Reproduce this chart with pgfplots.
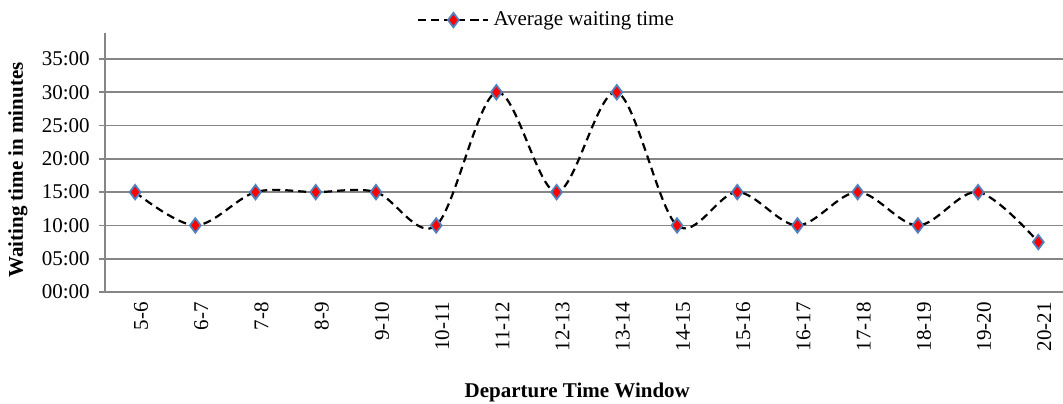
\documentclass[border=0pt]{standalone}
\usepackage{fontspec}
\setmainfont{Liberation Serif}
\usepackage{pgfplots}
\pgfplotsset{compat=1.18}
\definecolor{gridgray}{RGB}{134,134,134}
\definecolor{mkblue}{RGB}{79,129,189}
\newcommand{\fs}{\fontsize{10.5bp}{12.6bp}\selectfont}
\begin{document}
\fs
\begin{tikzpicture}
\begin{axis}[
  scale only axis,
  width=479bp, height=129.5bp,
  xmin=-0.5, xmax=15.41,
  ymin=0, ymax=38.9,
  axis x line=bottom, axis y line=left,
  axis line style={draw=gridgray, line width=1.2bp, -},
  ytick={0,5,10,15,20,25,30,35},
  yticklabels={00:00,05:00,10:00,15:00,20:00,25:00,30:00,35:00},
  ymajorgrids,
  major grid style={draw=gridgray, line width=0.9bp},
  ytick style={draw=gridgray, line width=0.9bp},
  ytick align=outside, major tick length=3bp,
  xtick={0,...,15},
  xticklabels={5-6,6-7,7-8,8-9,9-10,10-11,11-12,12-13,13-14,14-15,15-16,16-17,17-18,18-19,19-20,20-21},
  x tick style={draw=none},
  extra x ticks={-0.5,0.5,1.5,2.5,3.5,4.5,5.5,6.5,7.5,8.5,9.5,10.5,11.5,12.5,13.5,14.5},
  extra x tick labels={},
  extra x tick style={tick style={draw=gridgray, line width=0.9bp}, tick align=outside, major tick length=3bp, grid=none},
  xticklabel style={rotate=90, anchor=east, font=\fs, yshift=-3bp},
  yticklabel style={font=\fs, xshift=-1bp},
  ylabel={\textbf{Waiting time in minutes}},
  ylabel style={font=\fs, at={(rel axis cs:0,0.471)}, anchor=center, yshift=43.5bp},
  xlabel={\textbf{Departure Time Window}},
  xlabel style={font=\fs, at={(rel axis cs:0.493,0)}, anchor=center, yshift=-50bp},
  legend style={at={(rel axis cs:0.462,1.05)}, anchor=center, draw=none, fill=none, font=\fs, inner sep=0pt},
  legend image code/.code={\draw[mark repeat=2,mark phase=2] plot coordinates {(0bp,0bp)(17.5bp,0bp)(35bp,0bp)};},
  clip=false,
]
\addplot[black, line width=1.1bp, dash pattern=on 4bp off 2.5bp, smooth, tension=0.55,
  mark=diamond*, mark size=3.6bp, mark options={solid, fill=red, draw=mkblue, line width=0.9bp}]
  coordinates {(0,15)(1,10)(2,15)(3,15)(4,15)(5,10)(6,30)(7,15)(8,30)(9,10)(10,15)(11,10)(12,15)(13,10)(14,15)(15,7.5)};
\addlegendentry{Average waiting time}
\end{axis}
\pgfresetboundingbox
\path (current axis.south west) ++(-52.5bp,-56bp) rectangle ([yshift=16.5bp]current axis.north east);
\end{tikzpicture}
\end{document}
